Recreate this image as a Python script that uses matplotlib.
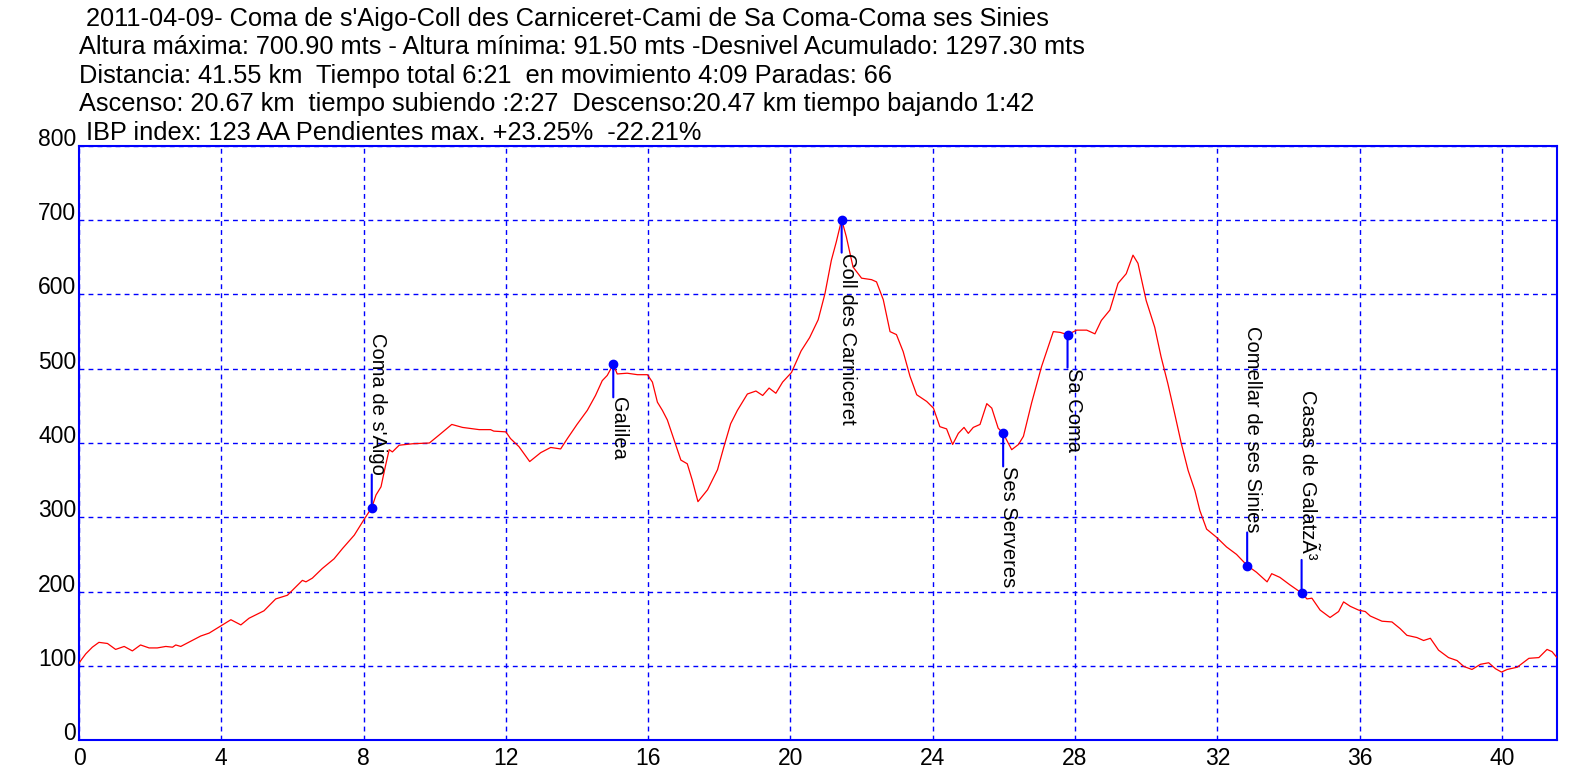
import matplotlib
matplotlib.use('Agg')
import matplotlib.pyplot as plt

plt.rcParams['font.family'] = ['Liberation Sans', 'DejaVu Sans']

# perfil: distancia (km) / altura (m)
dist_km = [0, 0.05, 0.19, 0.375, 0.56, 0.8, 1.03, 1.27, 1.5, 1.73, 1.97, 2.2, 2.44, 2.63, 2.72, 2.86,
           3.14, 3.42, 3.66, 4.0, 4.27, 4.55, 4.78, 5.2, 5.53, 5.86, 6.05, 6.28, 6.38, 6.56, 6.84, 7.17,
           7.41, 7.74, 8.0, 8.23, 8.35, 8.49, 8.61, 8.72, 8.81, 9.0, 9.38, 9.85, 10.13, 10.48, 10.78,
           11.25, 11.57, 11.66, 12.0, 12.13, 12.37, 12.67, 12.98, 13.26, 13.54, 13.73, 14.0, 14.29,
           14.52, 14.71, 14.85, 15.02, 15.13, 15.41, 15.7, 15.98, 16.12, 16.26, 16.4, 16.54, 16.73,
           16.92, 17.1, 17.24, 17.4, 17.67, 17.95, 18.13, 18.32, 18.51, 18.79, 19.03, 19.22, 19.4,
           19.59, 19.78, 20.03, 20.3, 20.54, 20.78, 20.97, 21.15, 21.29, 21.44, 21.57, 21.76, 22.0,
           22.28, 22.42, 22.61, 22.8, 22.98, 23.17, 23.36, 23.55, 23.83, 24.02, 24.2, 24.39, 24.56,
           24.72, 24.88, 25.0, 25.14, 25.33, 25.52, 25.66, 25.84, 25.98, 26.22, 26.41, 26.55, 26.78,
           27.06, 27.39, 27.58, 27.79, 28.05, 28.33, 28.56, 28.74, 28.98, 29.21, 29.44, 29.63, 29.77,
           30.0, 30.24, 30.42, 30.61, 30.8, 30.99, 31.18, 31.37, 31.51, 31.7, 31.98, 32.26, 32.54,
           32.84, 33.1, 33.4, 33.53, 33.76, 34.04, 34.37, 34.52, 34.66, 34.89, 35.17, 35.41, 35.55,
           35.74, 35.97, 36.16, 36.3, 36.63, 36.91, 37.14, 37.33, 37.61, 37.8, 37.99, 38.22, 38.5,
           38.74, 38.93, 39.16, 39.4, 39.63, 39.82, 39.99, 40.15, 40.43, 40.76, 41.04, 41.27, 41.41,
           41.55]
altura = [103, 107, 116, 125, 131.5, 130, 122, 126, 120, 128, 124, 124, 126, 125, 128, 126,
          133, 140, 144, 154, 162, 155, 164, 174, 190, 195, 204, 215, 213, 218, 231, 244,
          258, 276, 296, 313, 330, 341, 368, 391, 388, 397, 399, 400, 411, 425, 421,
          418, 418, 416, 415, 406, 395, 375, 387, 394, 392, 406, 425, 444,
          464, 484, 491, 506, 493, 494, 492, 492, 482, 455, 444, 431, 404,
          377, 372, 350, 321, 337, 364, 395, 426, 444, 466, 470, 464, 474,
          467, 482, 495, 524, 542, 566, 601, 646, 671, 700.9, 678, 637, 622,
          620, 617, 593, 550, 546, 523, 490, 465, 456, 447, 422, 419, 398,
          413, 421, 413, 421, 425, 453, 447, 420, 413, 391, 398, 409, 454,
          503, 550, 549, 546, 552, 552, 547, 565, 579, 615, 628, 653, 642,
          592, 556, 516, 480, 440, 399, 363, 336, 309, 284, 273, 260, 250,
          235, 226, 213, 224, 219, 209, 198, 190, 191, 175, 165, 173, 186,
          180, 175, 173, 167, 160, 159, 150, 141, 138, 134, 137, 121, 111,
          107, 99, 95, 102, 104, 96, 91.5, 95, 98, 110, 111, 122, 119,
          111]

# puntos de paso
wp_names = ["Coma de s'Aigo", "Galilea", "Coll des Carniceret", "Ses Serveres", "Sa Coma",
            "Comellar de ses Sinies", "Casas de GalatzÃ³"]
wp_km = [8.23, 15.02, 21.44, 25.98, 27.79, 32.84, 34.37]
wp_alt = [313, 506, 700.9, 413, 546, 235, 198]

x_ticks = list(range(0, 41, 4))
y_ticks = list(range(0, 801, 100))

header = [
    " 2011-04-09- Coma de s'Aigo-Coll des Carniceret-Cami de Sa Coma-Coma ses Sinies",
    "Altura máxima: 700.90 mts - Altura mínima: 91.50 mts -Desnivel Acumulado: 1297.30 mts",
    "Distancia: 41.55 km  Tiempo total 6:21  en movimiento 4:09 Paradas: 66",
    "Ascenso: 20.67 km  tiempo subiendo :2:27  Descenso:20.47 km tiempo bajando 1:42",
    " IBP index: 123 AA Pendientes max. +23.25%  -22.21%",
]

W, H = 1596, 778
fig = plt.figure(figsize=(W / 100, H / 100), dpi=100)
ax = fig.add_axes([79 / W, 1 - 740 / H, (1557 - 79) / W, (740 - 146) / H])

ax.plot(dist_km, altura, color='red', lw=0.9, zorder=3)
ax.plot(wp_km, wp_alt, 'o', color='blue', ms=6, zorder=5)

# etiquetas verticales: arriba o abajo del punto
arriba = [True, False, False, False, False, True, True]
off = 23.8
for name, xk, ya, up in zip(wp_names, wp_km, wp_alt, arriba):
    dy = off if up else -off
    ax.annotate('', xy=(xk, ya), xytext=(0, dy), textcoords='offset points',
                arrowprops=dict(arrowstyle='-', color='blue', lw=1.5, shrinkA=0, shrinkB=0,
                                patchA=None), zorder=4)
    ax.annotate(name, xy=(xk, ya), xytext=(-2.8, dy), textcoords='offset points',
                rotation=270, ha='left', va='bottom' if up else 'top',
                fontsize=14.5, color='black', zorder=6)

ax.set_xlim(0, 41.55)
ax.set_ylim(0, 800)
ax.set_xticks(x_ticks)
ax.set_yticks(y_ticks)
ax.grid(True, color='blue', linestyle=(0, (3.5, 3)), lw=1)
ax.tick_params(length=0, labelsize=16.5, colors='black')
ax.tick_params(axis='x', pad=5)
ax.tick_params(axis='y', pad=2)
for lab in ax.get_yticklabels():
    lab.set_va('baseline')
for s in ax.spines.values():
    s.set_color('blue')
    s.set_linewidth(1.5)

baselines = [26, 54.5, 83, 111.5, 140]
for line, b in zip(header, baselines):
    fig.text(79 / W, 1 - b / H, line, fontsize=18.3, ha='left', va='baseline')

fig.savefig('out.png', dpi=100)
